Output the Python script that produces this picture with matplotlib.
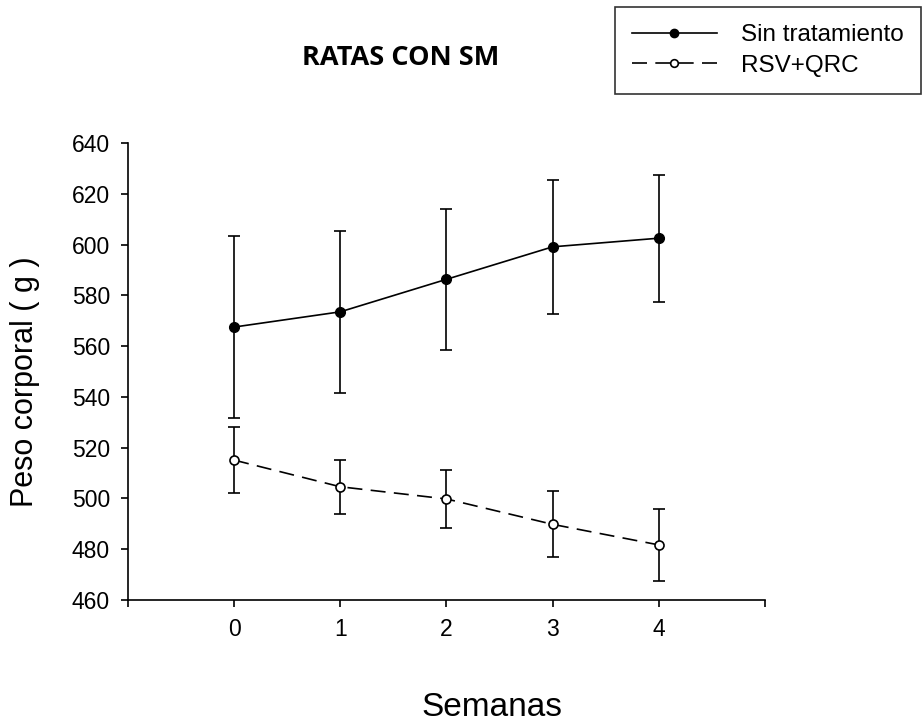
import matplotlib.pyplot as plt
from matplotlib.lines import Line2D

# Data
semanas = [0, 1, 2, 3, 4]
sin_trat = [567.5, 573.5, 586.3, 599.1, 602.5]
sin_trat_err = [36.0, 32.0, 27.7, 26.5, 25.0]
rsv_qrc = [515.1, 504.6, 499.8, 489.8, 481.7]
rsv_qrc_err = [13.0, 10.6, 11.5, 13.0, 14.2]

yticks = [460, 480, 500, 520, 540, 560, 580, 600, 620, 640]
xticks = [-1, 0, 1, 2, 3, 4, 5]
xticklabels = ['', '0', '1', '2', '3', '4', '']

plt.rcParams['font.family'] = ['Liberation Sans', 'DejaVu Sans']

fig = plt.figure(figsize=(9.22, 7.25), dpi=100)
ax = fig.add_axes([0.1388, 0.1724, 0.6909, 0.6304])

dash = (9, 5)
ax.errorbar(semanas, sin_trat, yerr=sin_trat_err, color='black', lw=1.2,
            elinewidth=1.2, capsize=4.5, capthick=1.2, marker='o',
            markersize=7, markerfacecolor='black', markeredgecolor='black')
ax.errorbar(semanas, rsv_qrc, yerr=rsv_qrc_err, color='black', lw=1.2,
            elinewidth=1.2, capsize=4.5, capthick=1.2, marker='o',
            markersize=6.5, markerfacecolor='white', markeredgecolor='black',
            markeredgewidth=1.2, dashes=dash)

ax.set_xlim(-1, 5)
ax.set_ylim(460, 640)
ax.set_xticks(xticks)
ax.set_xticklabels(xticklabels)
ax.set_yticks(yticks)
ax.tick_params(direction='out', length=5, width=1.2, labelsize=16.5)
ax.tick_params(axis='y', pad=8)
ax.tick_params(axis='x', pad=8)
for s in ['top', 'right']:
    ax.spines[s].set_visible(False)
for s in ['left', 'bottom']:
    ax.spines[s].set_linewidth(1.2)

ax.set_xlabel('Semanas', fontsize=24, va='center')
ax.xaxis.set_label_coords(0.571, -0.236)
ax.set_ylabel('Peso corporal ( g )', fontsize=22, va='center')
ax.yaxis.set_label_coords(-0.162, 0.477)

fig.text(0.435, 0.92, 'RATAS CON SM', fontsize=19.5, fontweight='bold',
         family='Open Sans', ha='center', va='center')

handles = [
    Line2D([], [], color='black', lw=1.2, marker='o', markersize=6,
           markerfacecolor='black', markeredgecolor='black'),
    Line2D([], [], color='black', lw=1.2, marker='o', markersize=5.5,
           markerfacecolor='white', markeredgecolor='black',
           markeredgewidth=1.2, dashes=dash),
]
leg = ax.legend(handles, ['Sin tratamiento', 'RSV+QRC'], loc='upper right',
                bbox_to_anchor=(0.999, 0.99), bbox_transform=fig.transFigure,
                fontsize=17.5, frameon=True, fancybox=False, edgecolor='black',
                handlelength=3.5, handletextpad=1.0, borderpad=0.7,
                labelspacing=0.35, borderaxespad=0)
leg.get_frame().set_linewidth(1.2)

fig.savefig('out.png', dpi=100)
